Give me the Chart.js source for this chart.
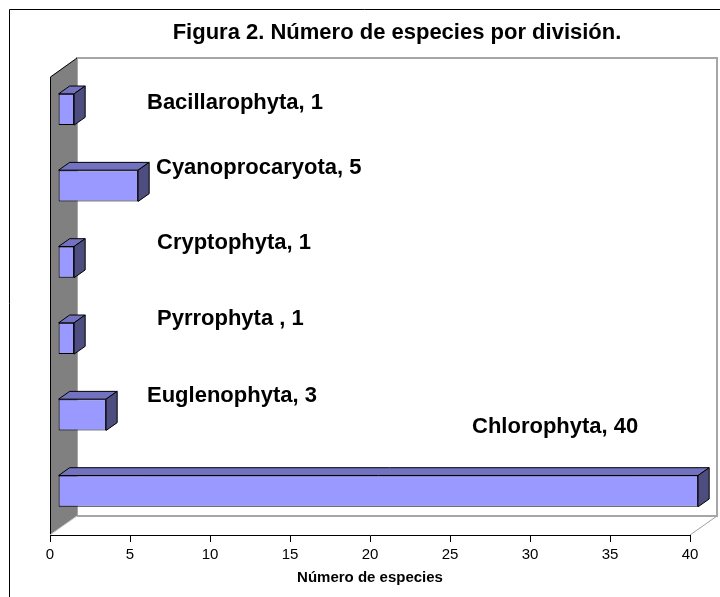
<!DOCTYPE html>
<html>
<head>
<meta charset="utf-8">
<script src="https://cdn.jsdelivr.net/npm/chart.js@4"></script>
<style>
  html, body { margin: 0; padding: 0; background: #fff; }
  canvas { display: block; }
</style>
</head>
<body>
<canvas id="grafico" width="720" height="597"></canvas>
<script>
// Datos
const titulo = 'Figura 2. Número de especies por división.';
const divisiones = ['Bacillarophyta', 'Cyanoprocaryota', 'Cryptophyta', 'Pyrrophyta ', 'Euglenophyta', 'Chlorophyta'];
const especies = [1, 5, 1, 1, 3, 40];
const ticksX = [0, 5, 10, 15, 20, 25, 30, 35, 40];
const tituloX = 'Número de especies';

// Estilo
const fuente = '"Liberation Sans", Arial, sans-serif';
// posicion de las etiquetas (dx desde el borde izquierdo, dy desde el centro de la barra)
const posEtiquetas = [[97, -12], [106, -24], [107, -25], [107, -25], [97, -25], [422, -70]];
// profundidad 3D
const PX = 27, PY = -19;
const FRENTE = 0.3, GROSOR = 0.41;

const efecto3D = {
    id: 'efecto3D',
    beforeDraw(chart) {
        const ctx = chart.ctx, a = chart.chartArea;
        const L = a.left, R = a.right, T = a.top, B = a.bottom;
        ctx.save();
        // marco exterior
        ctx.strokeStyle = '#000';
        ctx.lineWidth = 1;
        ctx.beginPath();
        ctx.moveTo(9.5, 597); ctx.lineTo(9.5, 9.5); ctx.lineTo(720, 9.5);
        ctx.stroke();
        // titulo
        ctx.fillStyle = '#000';
        ctx.font = 'bold 22px ' + fuente;
        ctx.textAlign = 'center';
        ctx.textBaseline = 'middle';
        ctx.fillText(titulo, 397, 33);
        // piso
        ctx.fillStyle = '#fff';
        ctx.strokeStyle = '#a0a0a0';
        ctx.beginPath();
        ctx.moveTo(L, B); ctx.lineTo(R, B); ctx.lineTo(R + PX, B + PY); ctx.lineTo(L + PX, B + PY);
        ctx.closePath();
        ctx.fill();
        ctx.beginPath();
        ctx.moveTo(R, B); ctx.lineTo(R + PX, B + PY);
        ctx.stroke();
        // pared del fondo
        ctx.lineWidth = 2;
        ctx.strokeStyle = '#a6a6a6';
        ctx.strokeRect(L + PX, T + PY, R - L, B - T);
        // pared izquierda
        ctx.fillStyle = '#808080';
        ctx.beginPath();
        ctx.moveTo(L, B); ctx.lineTo(L, T); ctx.lineTo(L + PX, T + PY); ctx.lineTo(L + PX, B + PY);
        ctx.closePath();
        ctx.fill();
        ctx.lineWidth = 1;
        ctx.strokeStyle = '#000';
        ctx.beginPath();
        ctx.moveTo(L + 0.5, B); ctx.lineTo(L + 0.5, T); ctx.lineTo(L + PX, T + PY);
        ctx.stroke();
        ctx.strokeStyle = '#d0d0d0';
        ctx.beginPath();
        ctx.moveTo(L, B); ctx.lineTo(L + PX, B + PY);
        ctx.stroke();
        ctx.restore();
    },
    beforeDatasetsDraw(chart) {
        chart.ctx.save();
        chart.ctx.translate(PX * FRENTE, PY * FRENTE);
    },
    afterDatasetsDraw(chart) {
        const ctx = chart.ctx, a = chart.chartArea;
        ctx.restore();
        const fx = PX * FRENTE, fy = PY * FRENTE;
        const gx = PX * GROSOR, gy = PY * GROSOR;
        const meta = chart.getDatasetMeta(0);
        ctx.save();
        ctx.lineWidth = 1;
        ctx.strokeStyle = '#000';
        ctx.lineJoin = 'round';
        meta.data.forEach(function(barra) {
            const izq = Math.min(barra.x, barra.base) + fx;
            const der = Math.max(barra.x, barra.base) + fx;
            const arriba = barra.y - barra.height / 2 + fy;
            const abajo = barra.y + barra.height / 2 + fy;
            // cara superior
            ctx.fillStyle = '#7272c0';
            ctx.beginPath();
            ctx.moveTo(izq, arriba); ctx.lineTo(der, arriba);
            ctx.lineTo(der + gx, arriba + gy); ctx.lineTo(izq + gx, arriba + gy);
            ctx.closePath();
            ctx.fill(); ctx.stroke();
            // cara lateral
            ctx.fillStyle = '#4d4d80';
            ctx.beginPath();
            ctx.moveTo(der, arriba); ctx.lineTo(der + gx, arriba + gy);
            ctx.lineTo(der + gx, abajo + gy); ctx.lineTo(der, abajo);
            ctx.closePath();
            ctx.fill(); ctx.stroke();
        });
        // etiquetas
        ctx.fillStyle = '#000';
        ctx.font = 'bold 22px ' + fuente;
        ctx.textAlign = 'left';
        ctx.textBaseline = 'middle';
        meta.data.forEach(function(barra, i) {
            const texto = divisiones[i] + ', ' + especies[i];
            ctx.fillText(texto, a.left + posEtiquetas[i][0], barra.y + posEtiquetas[i][1]);
        });
        ctx.restore();
    }
};

const config = {
    type: 'bar',
    data: {
        labels: divisiones,
        datasets: [{
            data: especies,
            backgroundColor: '#9999ff',
            borderColor: '#000',
            borderWidth: 1,
            borderSkipped: false,
            barPercentage: 1,
            categoryPercentage: GROSOR,
            clip: false
        }]
    },
    options: {
        indexAxis: 'y',
        responsive: false,
        animation: false,
        devicePixelRatio: 1,
        layout: { padding: { left: 50, right: 30, top: 77, bottom: 10 } },
        plugins: {
            legend: { display: false },
            title: { display: false },
            tooltip: { enabled: false }
        },
        scales: {
            x: {
                type: 'linear',
                min: ticksX[0],
                max: ticksX[ticksX.length - 1],
                ticks: { stepSize: ticksX[1] - ticksX[0], color: '#000', font: { family: fuente, size: 15 }, padding: 4 },
                grid: { drawOnChartArea: false, drawTicks: true, tickLength: 7, color: '#000' },
                border: { display: true, color: '#000', width: 1 },
                title: {
                    display: true,
                    text: tituloX,
                    color: '#000',
                    font: { family: fuente, size: 15, weight: 'bold' },
                    padding: { top: 1, bottom: 0 }
                }
            },
            y: {
                type: 'category',
                display: false
            }
        }
    },
    plugins: [efecto3D]
};

window.onload = function() {
    const ctx = document.getElementById('grafico').getContext('2d');
    new Chart(ctx, config);
};
</script>
</body>
</html>
